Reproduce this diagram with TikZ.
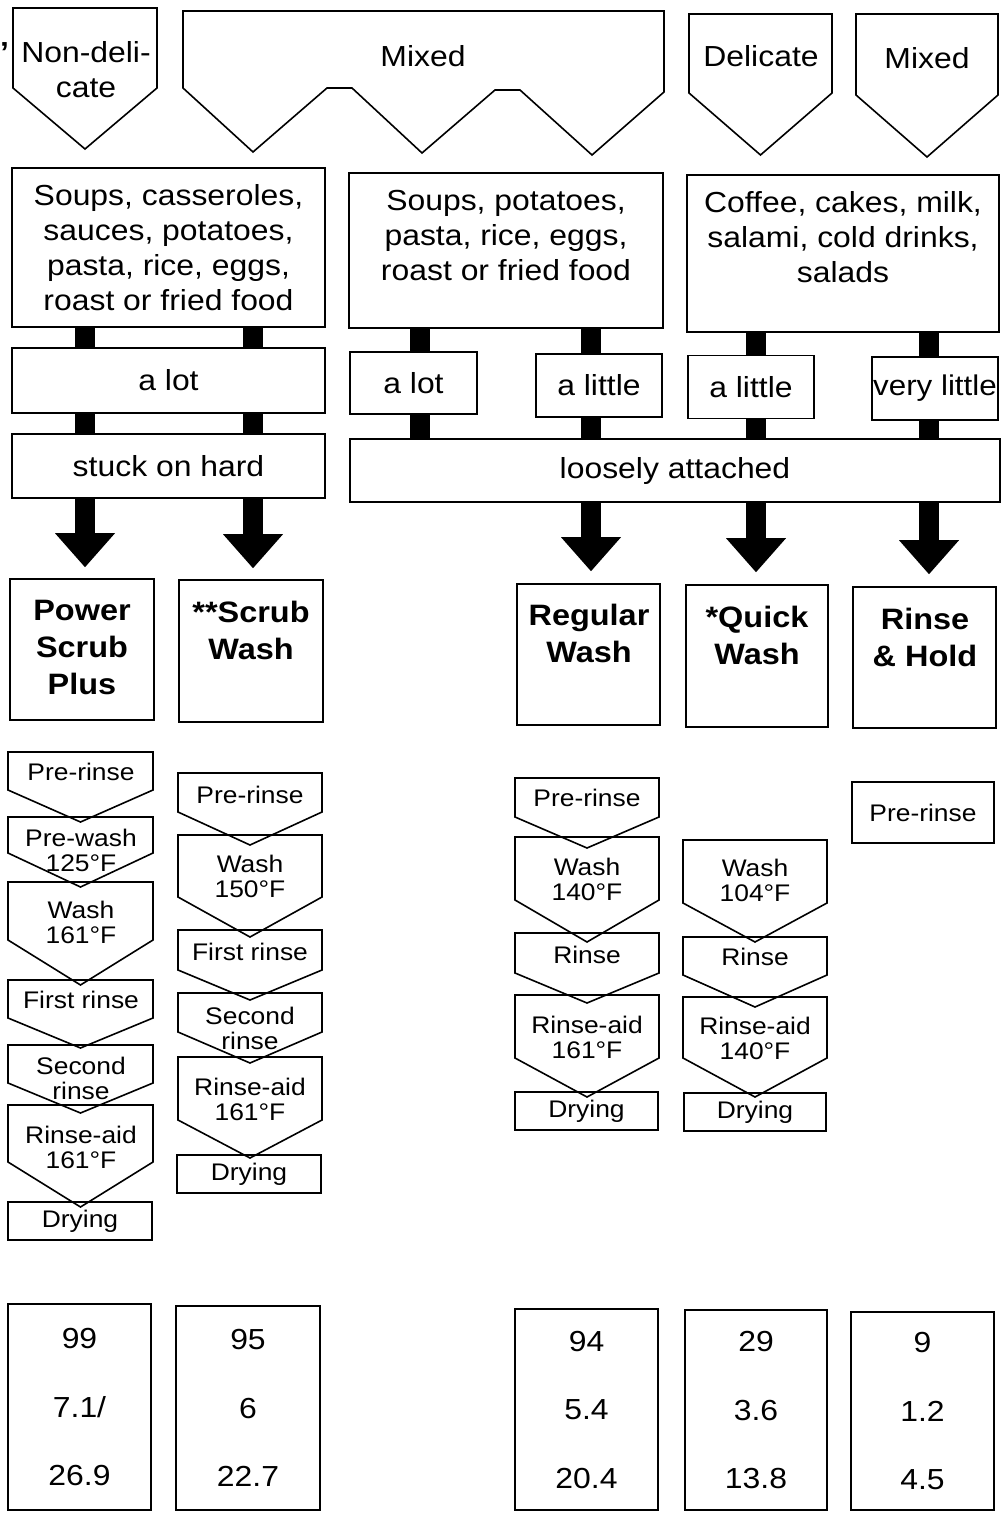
\documentclass[tikz,border=0pt]{standalone}
\usepackage{fontspec}
\setmainfont{Liberation Sans}[FakeStretch=1.1]
\usepackage{tikz}
\usetikzlibrary{arrows.meta, positioning, calc}
\tikzset{
  every picture/.style={line width=1.6pt, line join=miter},
  box/.style={draw, rectangle, inner sep=0pt, align=center, font=\fontsize{29}{35}\selectfont},
  txt/.style={inner sep=0pt, align=center, font=\fontsize{29}{35}\selectfont},
  prog/.style={inner sep=0pt, align=center, font=\fontsize{29.5}{37}\selectfont\bfseries},
  stage/.style={inner sep=0pt, align=center, font=\fontsize{24}{25}\selectfont},
  drying/.style={stage, draw, minimum height=38pt},
  nums/.style={draw, rectangle, inner sep=0pt, align=center, font=\fontsize{29}{68.5}\selectfont},
  bar/.style={line width=20pt},
  bigarrow/.style={line width=20pt, -{Triangle[length=34pt, width=60pt, line width=0pt]}},
}
% pentagon pointing down: left, right, top, side bottom, tip
\newcommand{\pentdown}[5]{\draw (#1,#3) -- (#2,#3) -- (#2,#4) -- ({(#1+#2)/2},#5) -- (#1,#4) -- cycle;}

\begin{document}
\begin{tikzpicture}[x=1pt, y=-1pt]
  \useasboundingbox (0,0) rectangle (1002,1514);
  \coordinate (c1) at (85,0);
  \coordinate (c2) at (253,0);
  \coordinate (c3) at (420,0);
  \coordinate (c4) at (591,0);
  \coordinate (c5) at (756,0);
  \coordinate (c6) at (929,0);

  % kind of dishes
  \node[txt, font=\fontsize{29}{35}\selectfont\bfseries] (mark) at (4.5,53) {'};
  \pentdown{13}{157}{8}{88}{149}
  \node[txt] (nondel) at (86,70) {Non-deli-\\cate};
  \draw (183,11) -- (664,11) -- (664,92) -- (592,155) -- (520,90) -- (495,90) -- (422,153)
        -- (352,88) -- (327,88) -- (253,152) -- (183,88) -- cycle;
  \node[txt] (mixA) at (423,56) {Mixed};
  \pentdown{689}{832}{14}{93}{155}
  \node[txt] (delic) at (761,56) {Delicate};
  \pentdown{856}{998}{14}{95}{157}
  \node[txt] (mixB) at (927,58) {Mixed};

  % food
  \node[box, minimum width=313pt, minimum height=159pt] (food1) at (168.5,247.5)
    {Soups, casseroles,\\sauces, potatoes,\\pasta, rice, eggs,\\roast or fried food};
  \node[box, minimum width=314pt, minimum height=155pt] (food2) at (506,250.5) {};
  \node[txt] (food2t) at (506,235.5) {Soups, potatoes,\\pasta, rice, eggs,\\roast or fried food};
  \node[box, minimum width=312pt, minimum height=157pt] (food3) at (843,253.5) {};
  \node[txt] (food3t) at (843,237.5) {Coffee, cakes, milk,\\salami, cold drinks,\\salads};

  % soiling
  \node[box, minimum width=313pt, minimum height=65pt] (lot1) at (168.5,380.5) {a lot};
  \node[box, minimum width=313pt, minimum height=64pt] (hard) at (168.5,466) {stuck on hard};
  \node[box, minimum width=127pt, minimum height=62pt] (lot2) at (413.5,383) {a lot};
  \node[box, minimum width=126pt, minimum height=63pt] (little1) at (599,385.5) {a little};
  \node[box, minimum width=126pt, minimum height=63pt] (little2) at (751,387) {a little};
  \node[box, minimum width=126pt, minimum height=63pt, font=\fontsize{28.5}{35}\selectfont] (vlittle) at (935,388.5) {very little};
  \node[box, minimum width=650pt, minimum height=63pt] (loose) at (675,470.5) {loosely attached};

  \draw[bar] (food1.south -| c1) -- (lot1.north -| c1);
  \draw[bar] (food1.south -| c2) -- (lot1.north -| c2);
  \draw[bar] (lot1.south -| c1) -- (hard.north -| c1);
  \draw[bar] (lot1.south -| c2) -- (hard.north -| c2);
  \draw[bar] (food2.south -| c3) -- (lot2.north -| c3);
  \draw[bar] (food2.south -| c4) -- (little1.north -| c4);
  \draw[bar] (food3.south -| c5) -- (little2.north -| c5);
  \draw[bar] (food3.south -| c6) -- (vlittle.north -| c6);
  \draw[bar] (lot2.south -| c3) -- (loose.north -| c3);
  \draw[bar] (little1.south -| c4) -- (loose.north -| c4);
  \draw[bar] (little2.south -| c5) -- (loose.north -| c5);
  \draw[bar] (vlittle.south -| c6) -- (loose.north -| c6);

  % programmes
  \node[box, minimum width=144pt, minimum height=141pt] (prog1) at (82,649.5) {};
  \node[prog] (prog1t) at (82,647.5) {Power\\Scrub\\Plus};
  \node[box, minimum width=144pt, minimum height=142pt] (prog2) at (251,651) {};
  \node[prog] (prog2t) at (251,630.5) {**Scrub\\Wash};
  \node[box, minimum width=143pt, minimum height=141pt] (prog3) at (588.5,654.5) {};
  \node[prog] (prog3t) at (589,633.5) {Regular\\Wash};
  \node[box, minimum width=142pt, minimum height=142pt] (prog4) at (757,656) {};
  \node[prog] (prog4t) at (757,635.5) {*Quick\\Wash};
  \node[box, minimum width=143pt, minimum height=141pt] (prog5) at (924.5,657.5) {};
  \node[prog] (prog5t) at (925,637) {Rinse\\\& Hold};

  \draw[bigarrow] (hard.south -| c1) -- ($(prog1.north -| c1)+(0,-11)$);
  \draw[bigarrow] (hard.south -| c2) -- ($(prog2.north -| c2)+(0,-11)$);
  \draw[bigarrow] (loose.south -| c4) -- ($(prog3.north -| c4)+(0,-12)$);
  \draw[bigarrow] (loose.south -| c5) -- ($(prog4.north -| c5)+(0,-12)$);
  \draw[bigarrow] (loose.south -| c6) -- ($(prog5.north -| c6)+(0,-12)$);

  % Power Scrub Plus
  \pentdown{8}{153}{752}{790}{822}
  \node[stage] (s1a) at (81,772) {Pre-rinse};
  \pentdown{8}{153}{817}{853}{887}
  \node[stage] (s1b) at (81,850) {Pre-wash\\125°F};
  \pentdown{8}{153}{882}{940}{985}
  \node[stage] (s1c) at (81,922) {Wash\\161°F};
  \pentdown{8}{153}{980}{1018}{1048}
  \node[stage] (s1d) at (81,1000) {First rinse};
  \pentdown{8}{153}{1045}{1083}{1113}
  \node[stage] (s1e) at (81,1078) {Second\\rinse};
  \pentdown{8}{153}{1105}{1162}{1207}
  \node[stage] (s1f) at (81,1147) {Rinse-aid\\161°F};
  \node[drying, minimum width=144pt] (dry1) at (80,1221) {Drying};

  % Scrub Wash
  \pentdown{178}{322}{773}{812}{845}
  \node[stage] (s2a) at (250,795) {Pre-rinse};
  \pentdown{178}{322}{835}{897}{937}
  \node[stage] (s2b) at (250,876) {Wash\\150°F};
  \pentdown{178}{322}{930}{970}{1000}
  \node[stage] (s2c) at (250,952) {First rinse};
  \pentdown{178}{322}{993}{1032}{1063}
  \node[stage] (s2d) at (250,1028) {Second\\rinse};
  \pentdown{178}{322}{1057}{1120}{1158}
  \node[stage] (s2e) at (250,1099) {Rinse-aid\\161°F};
  \node[drying, minimum width=144pt] (dry2) at (249,1174) {Drying};

  % Regular Wash
  \pentdown{515}{659}{778}{817}{848}
  \node[stage] (s3a) at (587,798) {Pre-rinse};
  \pentdown{515}{659}{837}{900}{942}
  \node[stage] (s3b) at (587,879) {Wash\\140°F};
  \pentdown{515}{659}{933}{973}{1003}
  \node[stage] (s3c) at (587,955) {Rinse};
  \pentdown{515}{659}{995}{1058}{1097}
  \node[stage] (s3d) at (587,1037) {Rinse-aid\\161°F};
  \node[drying, minimum width=143pt] (dry3) at (586.5,1111) {Drying};

  % Quick Wash
  \pentdown{683}{827}{840}{903}{942}
  \node[stage] (s4a) at (755,880) {Wash\\104°F};
  \pentdown{683}{827}{937}{975}{1007}
  \node[stage] (s4b) at (755,957) {Rinse};
  \pentdown{683}{827}{997}{1058}{1097}
  \node[stage] (s4c) at (755,1038) {Rinse-aid\\140°F};
  \node[drying, minimum width=142pt] (dry4) at (755,1112) {Drying};

  % Rinse & Hold
  \node[stage, draw, minimum width=142pt, minimum height=61pt] (s5a) at (923,812.5) {Pre-rinse};

  % figures
  \node[nums, minimum width=143pt, minimum height=206pt] (res1) at (79.5,1407) {99\\7.1/\\26.9};
  \node[nums, minimum width=144pt, minimum height=204pt] (res2) at (248,1408) {95\\6\\22.7};
  \node[nums, minimum width=143pt, minimum height=201pt] (res3) at (586.5,1409.5) {94\\5.4\\20.4};
  \node[nums, minimum width=142pt, minimum height=200pt] (res4) at (756,1410) {29\\3.6\\13.8};
  \node[nums, minimum width=143pt, minimum height=198pt] (res5) at (922.5,1411) {9\\1.2\\4.5};
\end{tikzpicture}
\end{document}
